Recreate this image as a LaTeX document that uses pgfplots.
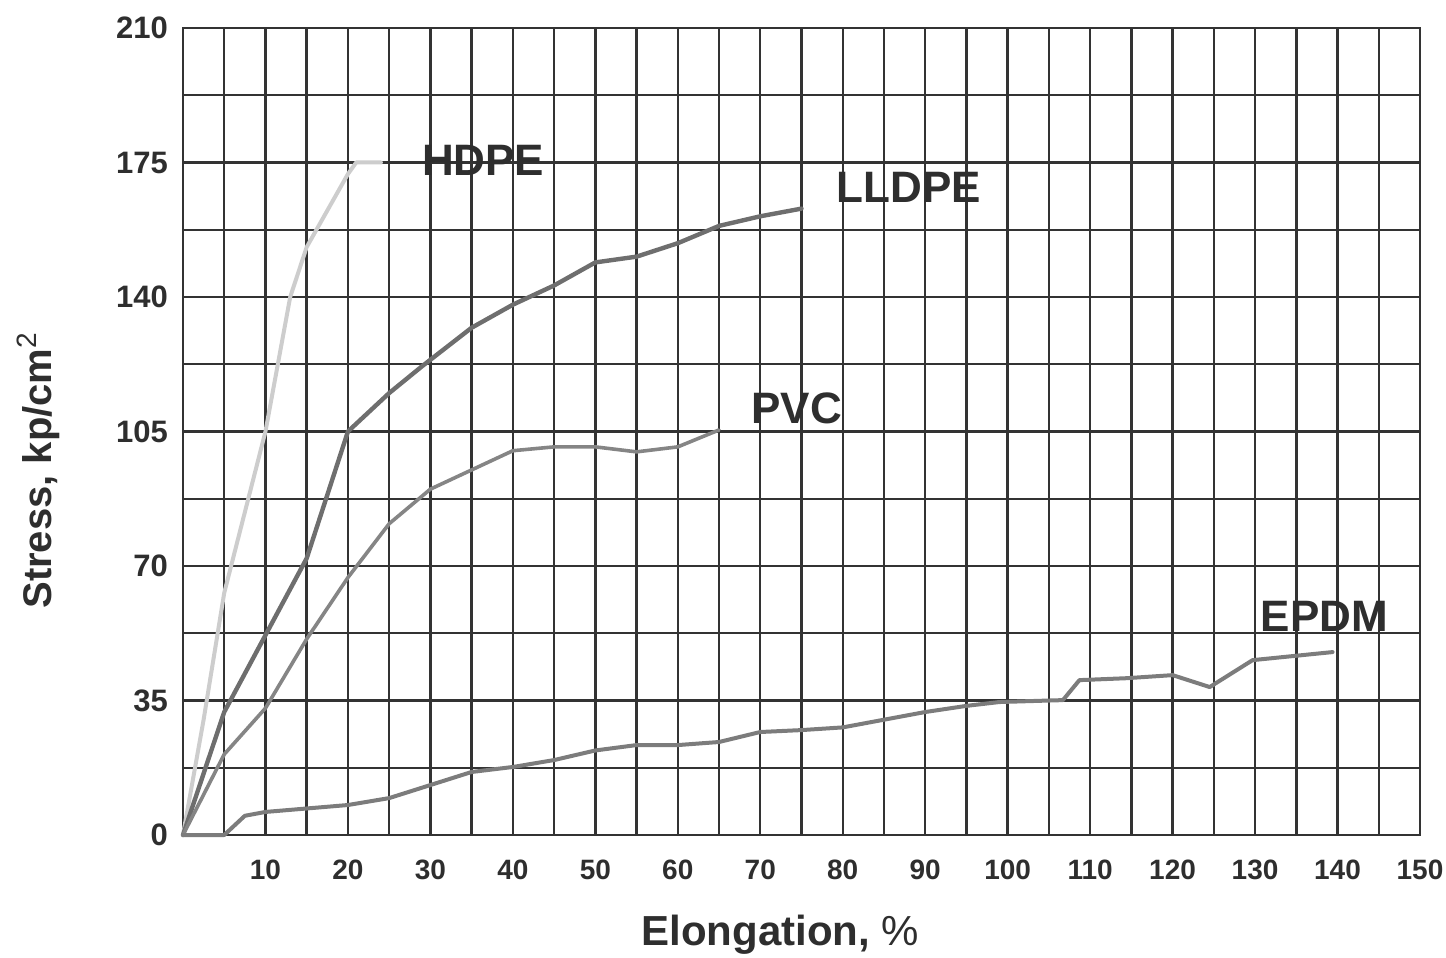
\documentclass[border=0pt]{standalone}
\usepackage{pgfplots}
\pgfplotsset{compat=1.18}
\usepackage{fontspec}
\setmainfont{Liberation Sans}
\definecolor{gridc}{HTML}{333333}
\definecolor{txt}{HTML}{2E2E2E}
\definecolor{hdpe}{HTML}{CDCDCD}
\definecolor{lldpe}{HTML}{6E6E6E}
\definecolor{pvc}{HTML}{858585}
\definecolor{epdm}{HTML}{7C7C7C}
\begin{document}
\begin{tikzpicture}
  \useasboundingbox (-91.5pt,-61.5pt) rectangle (631.5pt,417.5pt);
  \begin{axis}[
      scale only axis,
      width=618.5pt, height=403.5pt,
      xmin=0, xmax=150, ymin=0, ymax=210,
      xtick={10,20,...,150},
      minor xtick={5,15,...,145},
      ytick={0,35,...,210},
      minor ytick={17.5,52.5,...,192.5},
      grid=both,
      major grid style={draw=gridc, line width=1.2pt},
      minor grid style={draw=gridc, line width=1.2pt},
      axis line style={draw=gridc, line width=1.2pt},
      major tick length=0pt, minor tick length=0pt,
      /pgf/number format/assume math mode=true,
      ticklabel style={font=\bfseries\fontsize{14}{16}\selectfont, text=txt},
      yticklabel style={font=\bfseries\fontsize{15.5}{18}\selectfont, xshift=-4pt},
      xticklabel style={yshift=-9pt},
      xlabel={\textbf{Elongation,} \%},
      ylabel={Stress, kp/cm$^{\mathrm{2}}$},
      xlabel style={at={(axis description cs:0.483,-0.124)}, anchor=center,
        font=\fontsize{21}{24}\selectfont, text=txt},
      ylabel style={at={(axis description cs:-0.117,0.452)}, anchor=center,
        font=\bfseries\fontsize{20}{24}\selectfont, text=txt},
      every axis plot/.append style={line join=round, line cap=round},
      clip=false,
    ]
    % HDPE
    \addplot[hdpe, line width=2pt] coordinates {
      (0,0) (2.5,30) (5,63) (10,105) (13,140) (15,153) (20,172) (21,175) (24,175)
    };
    % LLDPE
    \addplot[lldpe, line width=2.2pt] coordinates {
      (0,0) (5,32) (10,52) (15,72) (20,105) (25,115) (29,122) (35,132) (40,138)
      (45,143) (50,149) (55,150.5) (60,154) (65,158.5) (70,161) (75,163)
    };
    % PVC
    \addplot[pvc, line width=1.8pt] coordinates {
      (0,0) (5,21) (10,33) (15,51) (20,67) (25,81) (30,90) (35,95) (40,100)
      (45,101) (50,101) (55,99.7) (60,101) (65,105.4)
    };
    % EPDM
    \addplot[epdm, line width=2pt] coordinates {
      (0,0) (5,0) (7.5,5) (10,6) (20,7.8) (25,9.6) (30,13) (35,16.4) (40,17.7)
      (45,19.5) (50,22) (55,23.4) (60,23.4) (65,24.2) (70,26.8) (75,27.3)
      (80,28) (85,30) (90,32) (95,33.6) (99,34.6) (106.7,35.1) (108.7,40.3)
      (114.4,40.8) (120,41.6) (124.5,38.5) (129.7,45.5) (139.4,47.6)
    };
    \begin{scope}[every node/.style={font=\bfseries\fontsize{22}{24}\selectfont, text=txt, anchor=center}]
      \node at (axis cs:36.4,175.5) {HDPE};
      \node at (axis cs:88,168.5) {LLDPE};
      \node at (axis cs:74.4,111) {PVC};
      \node at (axis cs:138.4,57) {EPDM};
    \end{scope}
  \end{axis}
\end{tikzpicture}
\end{document}
